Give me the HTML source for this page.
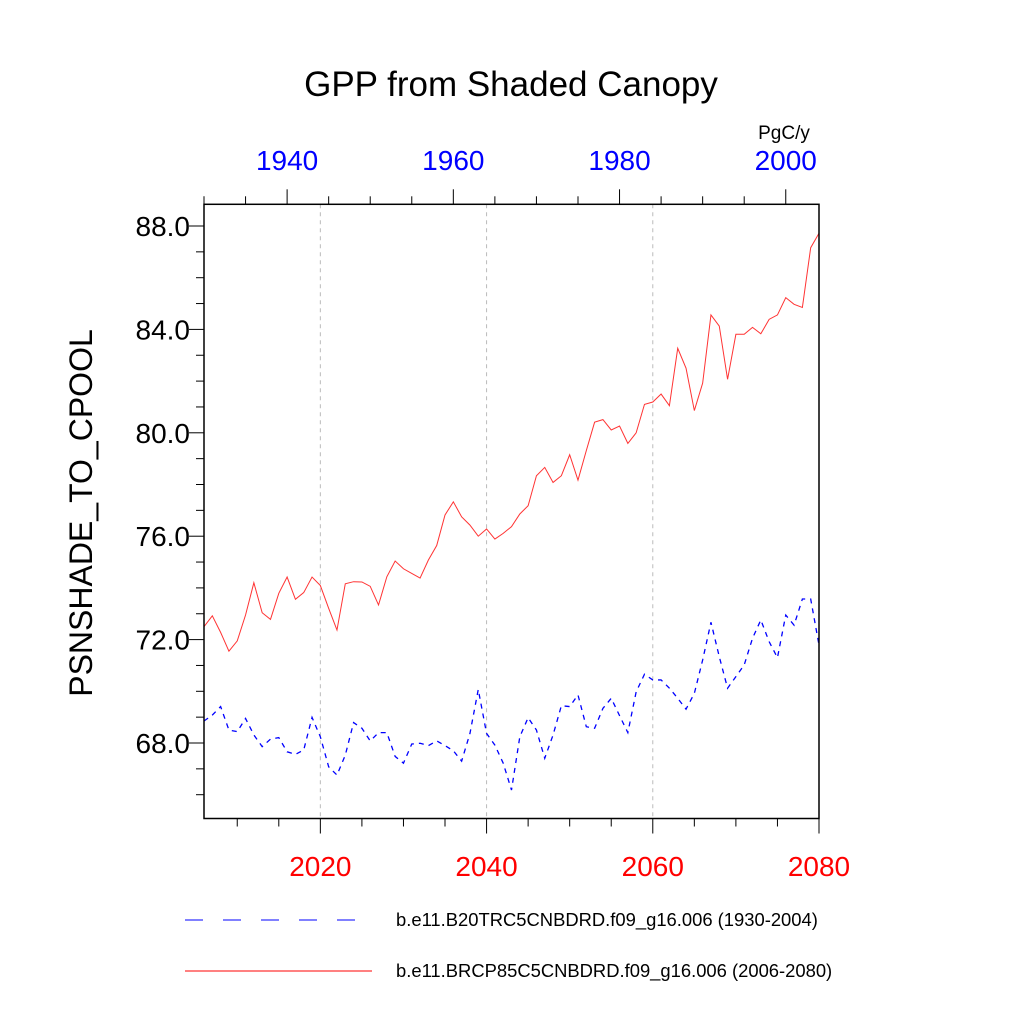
<!DOCTYPE html>
<html><head><meta charset="utf-8"><style>
body{margin:0;background:#fff}
svg{display:block;font-family:"Liberation Sans",sans-serif}
</style></head><body>
<svg id="chart" width="1024" height="1024" viewBox="0 0 1024 1024">
<text x="511" y="96" text-anchor="middle" font-size="35">GPP from Shaded Canopy</text>
<text x="784" y="139" text-anchor="middle" font-size="19">PgC/y</text>
<text transform="translate(92,513) rotate(-90)" text-anchor="middle" font-size="32">PSNSHADE_TO_CPOOL</text>
<g id="grid"></g><g id="series"></g><g id="axes"></g>
<g>
<line x1="185" y1="920" x2="372" y2="920" stroke="#00f" stroke-width="1" stroke-dasharray="18,20"/>
<text x="396" y="926" font-size="18.4">b.e11.B20TRC5CNBDRD.f09_g16.006 (1930-2004)</text>
<line x1="185" y1="971" x2="372" y2="971" stroke="#f00" stroke-width="1"/>
<text x="396" y="977" font-size="18.4">b.e11.BRCP85C5CNBDRD.f09_g16.006 (2006-2080)</text>
</g>
</svg>
<script>
const years=[];for(let y=2006;y<=2080;y++)years.push(y);
const rcpValues=[72.50,72.92,72.28,71.55,71.95,72.95,74.2,73.04,72.78,73.79,74.42,73.56,73.82,74.42,74.09,73.21,72.37,74.16,74.24,74.23,74.06,73.34,74.43,75.04,74.74,74.56,74.38,75.08,75.64,76.82,77.33,76.75,76.43,76.0,76.28,75.89,76.11,76.37,76.86,77.18,78.34,78.66,78.08,78.34,79.15,78.17,79.31,80.41,80.51,80.11,80.26,79.59,80.0,81.1,81.19,81.5,81.05,83.27,82.5,80.86,81.92,84.56,84.13,82.07,83.81,83.81,84.08,83.83,84.39,84.56,85.23,84.97,84.85,87.16,87.72];
const histValues=[68.85,69.08,69.41,68.5,68.44,68.95,68.31,67.86,68.15,68.21,67.66,67.56,67.73,68.99,68.24,67.08,66.76,67.53,68.79,68.57,68.08,68.4,68.4,67.48,67.22,67.96,67.99,67.9,68.08,67.9,67.7,67.3,68.37,70.07,68.37,67.92,67.22,66.18,68.24,68.98,68.5,67.41,68.31,69.44,69.41,69.86,68.63,68.57,69.34,69.73,69.06,68.4,69.98,70.66,70.44,70.44,70.12,69.73,69.31,69.92,71.21,72.67,71.34,70.12,70.57,71.02,72.05,72.76,71.92,71.3,72.95,72.56,73.57,73.57,71.79];
const yTickValues=[68,72,76,80,84,88];
const bottomTickLabels=[2020,2040,2060,2080];
const topTickLabels=[1940,1960,1980,2000];
const X0=204,X1=819,Y0=818.5,Y1=204.3;
const xs=y=>X0+(y-2006)/(2080-2006)*(X1-X0);
const xt=y=>X0+(y-1930)/(2004-1930)*(X1-X0);
const ys=v=>743+(68-v)*25.85;
const NS='http://www.w3.org/2000/svg';
function mk(tag,attrs,parent){const e=document.createElementNS(NS,tag);for(const k in attrs)e.setAttribute(k,attrs[k]);parent.appendChild(e);return e;}
const grid=document.getElementById('grid'),ser=document.getElementById('series'),ax=document.getElementById('axes');
[2020,2040,2060].forEach(y=>{const l=mk('line',{x1:xs(y),x2:xs(y),y1:Y1,y2:Y0,stroke:'#bbb','stroke-width':1,'stroke-dasharray':'4,4'},grid);

});
const hp=mk('polyline',{points:years.map((y,i)=>xs(y)+','+ys(histValues[i])).join(' '),fill:'none',stroke:'#00f','stroke-width':1.3,'stroke-dasharray':'5,5'},ser);


const rp=mk('polyline',{points:years.map((y,i)=>xs(y)+','+ys(rcpValues[i])).join(' '),fill:'none',stroke:'#f33','stroke-width':1},ser);


const fr=mk('rect',{x:X0,y:Y1,width:X1-X0,height:Y0-Y1,fill:'none',stroke:'#000','stroke-width':1.5},ax);


for(let v=66;v<=88;v++){const y=ys(v);const major=yTickValues.includes(v);
const t=mk('line',{x1:X0,x2:X0-(major?15:8),y1:y,y2:y,stroke:'#000','stroke-width':1},ax);

}
yTickValues.forEach(v=>{const t=mk('text',{x:X0-14,y:ys(v)+10,'text-anchor':'end','font-size':28},ax);t.textContent=v.toFixed(1);

});
for(let y=2010;y<=2080;y+=5){const major=y%20===0;
const t=mk('line',{x1:xs(y),x2:xs(y),y1:Y0,y2:Y0+(major?15:8),stroke:'#000','stroke-width':1},ax);

}
bottomTickLabels.forEach(y=>{const t=mk('text',{x:xs(y),y:876,'text-anchor':'middle','font-size':28,fill:'#f00'},ax);t.textContent=y;

});
for(let y=1930;y<=2000;y+=5){const major=y%20===0;
const t=mk('line',{x1:xt(y),x2:xt(y),y1:Y1,y2:Y1-(major?15:8),stroke:'#000','stroke-width':1},ax);

}
topTickLabels.forEach(y=>{const t=mk('text',{x:xt(y),y:170,'text-anchor':'middle','font-size':28,fill:'#00f'},ax);t.textContent=y;

});
</script>
</body></html>
